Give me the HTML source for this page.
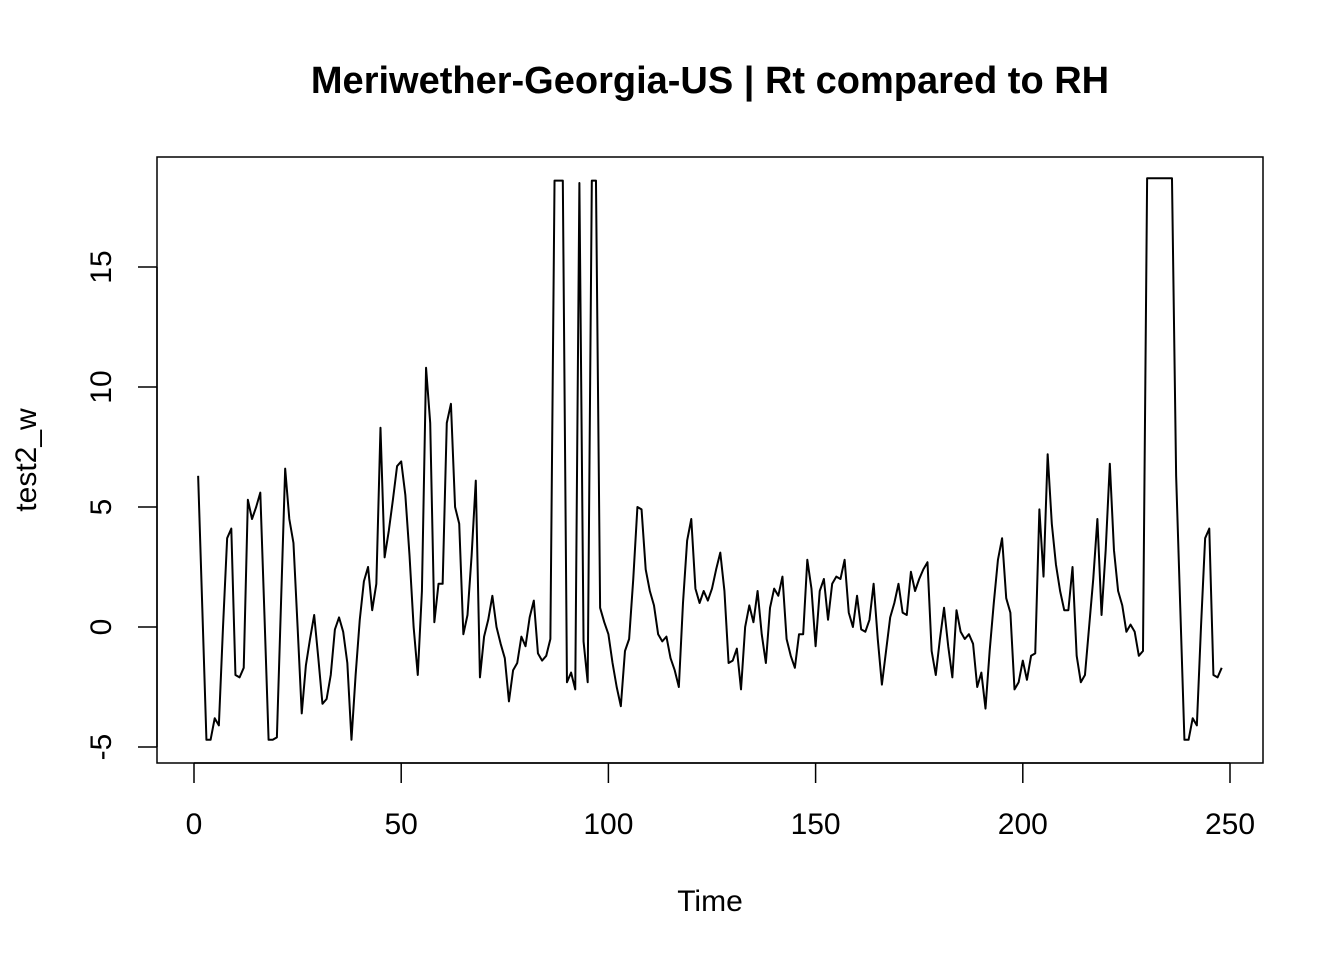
<!DOCTYPE html>
<html><head><meta charset="utf-8"><style>
html,body{margin:0;padding:0;background:#fff;}
svg{display:block;font-family:"Liberation Sans",Arial,sans-serif;}
</style></head><body>
<svg id="chart" width="1344" height="960" viewBox="0 0 1344 960" xmlns="http://www.w3.org/2000/svg">
<rect width="1344" height="960" fill="#fff"/>
<text x="710" y="93" font-size="38" font-weight="bold" text-anchor="middle">Meriwether-Georgia-US | Rt compared to RH</text>
<rect x="157" y="157" width="1106" height="606" fill="none" stroke="#000" stroke-width="1.5"/>
<g id="xaxis"></g>
<g id="yaxis"></g>
<text x="710" y="911" font-size="30" text-anchor="middle">Time</text>
<text x="0" y="0" font-size="30" text-anchor="middle" transform="translate(36,460) rotate(-90)">test2_w</text>
<path id="series" fill="none" stroke="#000" stroke-width="2" stroke-linejoin="round"/>
</svg>
<script>
const xTicks = [0, 50, 100, 150, 200, 250];
const yTicks = [-5, 0, 5, 10, 15];
const values = [
6.3,0.8,-4.7,-4.7,-3.8,-4.1,0,3.7,4.1,-2.0,
-2.1,-1.7,5.3,4.5,5.0,5.6,0.5,-4.7,-4.7,-4.6,
1.0,6.6,4.5,3.5,0,-3.6,-1.6,-0.5,0.5,-1.3,
-3.2,-3.0,-2.0,-0.1,0.4,-0.2,-1.5,-4.7,-2.0,0.3,
1.9,2.5,0.7,1.8,8.3,2.9,4.0,5.3,6.7,6.9,
5.5,3.0,0,-2.0,1.5,10.8,8.5,0.2,1.8,1.8,
8.5,9.3,5.0,4.3,-0.3,0.5,3.0,6.1,-2.1,-0.4,
0.3,1.3,0,-0.7,-1.3,-3.1,-1.8,-1.5,-0.4,-0.8,
0.4,1.1,-1.1,-1.4,-1.2,-0.5,18.6,18.6,18.6,-2.3,
-1.9,-2.6,18.5,-0.6,-2.3,18.6,18.6,0.8,0.2,-0.3,
-1.5,-2.5,-3.3,-1.0,-0.5,2.0,5.0,4.9,2.4,1.5,
0.9,-0.3,-0.6,-0.4,-1.3,-1.8,-2.5,1.0,3.6,4.5,
1.6,1.0,1.5,1.1,1.6,2.4,3.1,1.5,-1.5,-1.4,
-0.9,-2.6,0.0,0.9,0.2,1.5,-0.3,-1.5,0.8,1.6,
1.3,2.1,-0.5,-1.2,-1.7,-0.3,-0.3,2.8,1.6,-0.8,
1.5,2.0,0.3,1.8,2.1,2.0,2.8,0.6,0.0,1.3,
-0.1,-0.2,0.3,1.8,-0.5,-2.4,-1.0,0.4,1.0,1.8,
0.6,0.5,2.3,1.5,2.0,2.4,2.7,-1.0,-2.0,-0.5,
0.8,-0.8,-2.1,0.7,-0.2,-0.5,-0.3,-0.7,-2.5,-1.9,
-3.4,-1.0,1.0,2.8,3.7,1.2,0.6,-2.6,-2.3,-1.4,
-2.2,-1.2,-1.1,4.9,2.1,7.2,4.3,2.6,1.5,0.7,
0.7,2.5,-1.2,-2.3,-2.0,0,2.0,4.5,0.5,3.2,
6.8,3.2,1.5,0.9,-0.2,0.1,-0.2,-1.2,-1.0,18.7,
18.7,18.7,18.7,18.7,18.7,18.7,6.3,0.8,-4.7,-4.7,
-3.8,-4.1,0,3.7,4.1,-2.0,-2.1,-1.7
];
const NS = "http://www.w3.org/2000/svg";
function xScale(t){ return 194 + (t - 0) * (1230 - 194) / 250; }
function yScale(v){ return 627 - v * 24; }
const xa = document.getElementById('xaxis');
const ya = document.getElementById('yaxis');
function mk(tag, attrs, parent){ const e = document.createElementNS(NS, tag); for (const k in attrs) e.setAttribute(k, attrs[k]); parent.appendChild(e); return e; }
mk('line', {x1: xScale(xTicks[0]), x2: xScale(xTicks[xTicks.length-1]), y1: 763, y2: 763, stroke: '#000', 'stroke-width': 1.5}, xa);
xTicks.forEach(t => {
  const x = xScale(t);
  const l = mk('line', {x1: x, x2: x, y1: 763, y2: 783, stroke: '#000', 'stroke-width': 1.5}, xa);
  
  
  const tx = mk('text', {x: x, y: 834, 'font-size': 30, 'text-anchor': 'middle'}, xa);
  tx.textContent = t;
  
  
});
mk('line', {x1: 157, x2: 157, y1: yScale(yTicks[0]), y2: yScale(yTicks[yTicks.length-1]), stroke: '#000', 'stroke-width': 1.5}, ya);
yTicks.forEach(v => {
  const y = yScale(v);
  const l = mk('line', {x1: 138, x2: 157, y1: y, y2: y, stroke: '#000', 'stroke-width': 1.5}, ya);
  
  
  const tx = mk('text', {x: 0, y: 0, 'font-size': 30, 'text-anchor': 'middle', transform: 'translate(111,' + y + ') rotate(-90)'}, ya);
  tx.textContent = v;
  
  
});
const d = values.map((v, i) => (i ? 'L' : 'M') + xScale(i + 1).toFixed(2) + ',' + yScale(v).toFixed(2)).join(' ');
document.getElementById('series').setAttribute('d', d);
</script>
</body></html>
